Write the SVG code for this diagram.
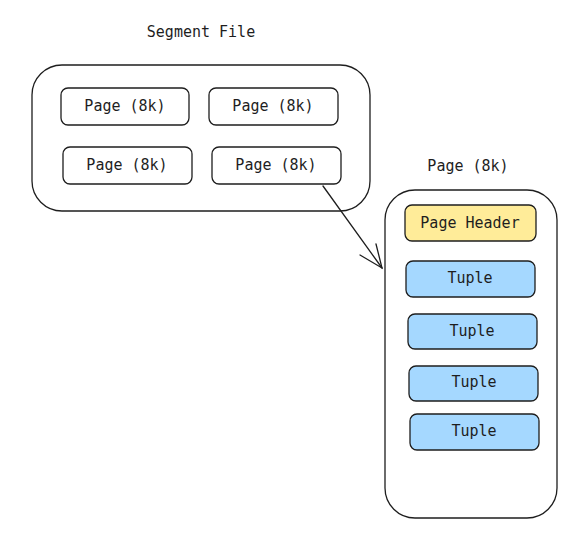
<svg xmlns="http://www.w3.org/2000/svg" width="580" height="540" viewBox="0 0 580 540">
<style>
text{font-family:"DejaVu Sans Mono","Liberation Mono",monospace;font-size:15px;fill:#1e1e1e;text-anchor:middle;dominant-baseline:central}
.c{fill:#fff;stroke:#1e1e1e;stroke-width:1.3}
.p{fill:#fff;stroke:#1e1e1e;stroke-width:1.3}
.h{fill:#ffec99;stroke:#1e1e1e;stroke-width:1.3}
.t{fill:#a5d8ff;stroke:#1e1e1e;stroke-width:1.3}
.e{fill:none;stroke:#1e1e1e;stroke-width:1.3;stroke-linecap:round}
</style>
<rect width="580" height="540" fill="#fff"/>
<g id="segment-file">
<text x="201" y="32">Segment File</text>
<rect class="c" x="32" y="65" width="338" height="146" rx="30"/>
</g>
<g id="page1"><rect class="p" x="61" y="88" width="128" height="37" rx="7"/><text x="125" y="106">Page (8k)</text></g>
<g id="page2"><rect class="p" x="209" y="88" width="129" height="37" rx="7"/><text x="273" y="106">Page (8k)</text></g>
<g id="page3"><rect class="p" x="63" y="147" width="129" height="37" rx="7"/><text x="127" y="165">Page (8k)</text></g>
<g id="page4"><rect class="p" x="212" y="147" width="129" height="37" rx="7"/><text x="276" y="165">Page (8k)</text></g>
<g id="page-detail">
<text x="468" y="166">Page (8k)</text>
<rect class="c" x="385" y="190" width="172" height="328" rx="30"/>
</g>
<g id="header"><rect class="h" x="405" y="205" width="131" height="36" rx="7"/><text x="470" y="223">Page Header</text></g>
<g id="tuple1"><rect class="t" x="406" y="261" width="129" height="36" rx="7"/><text x="470" y="278">Tuple</text></g>
<g id="tuple2"><rect class="t" x="408" y="314" width="129" height="35" rx="7"/><text x="472" y="331">Tuple</text></g>
<g id="tuple3"><rect class="t" x="409" y="366" width="129" height="35" rx="7"/><text x="474" y="382">Tuple</text></g>
<g id="tuple4"><rect class="t" x="410" y="414" width="129" height="36" rx="7"/><text x="474" y="431">Tuple</text></g>
<g id="connectors">
<path class="e" d="M323 186 L382 268"/>
<path class="e" d="M360 255 L382 268 L376 244"/>
</g>
</svg>
